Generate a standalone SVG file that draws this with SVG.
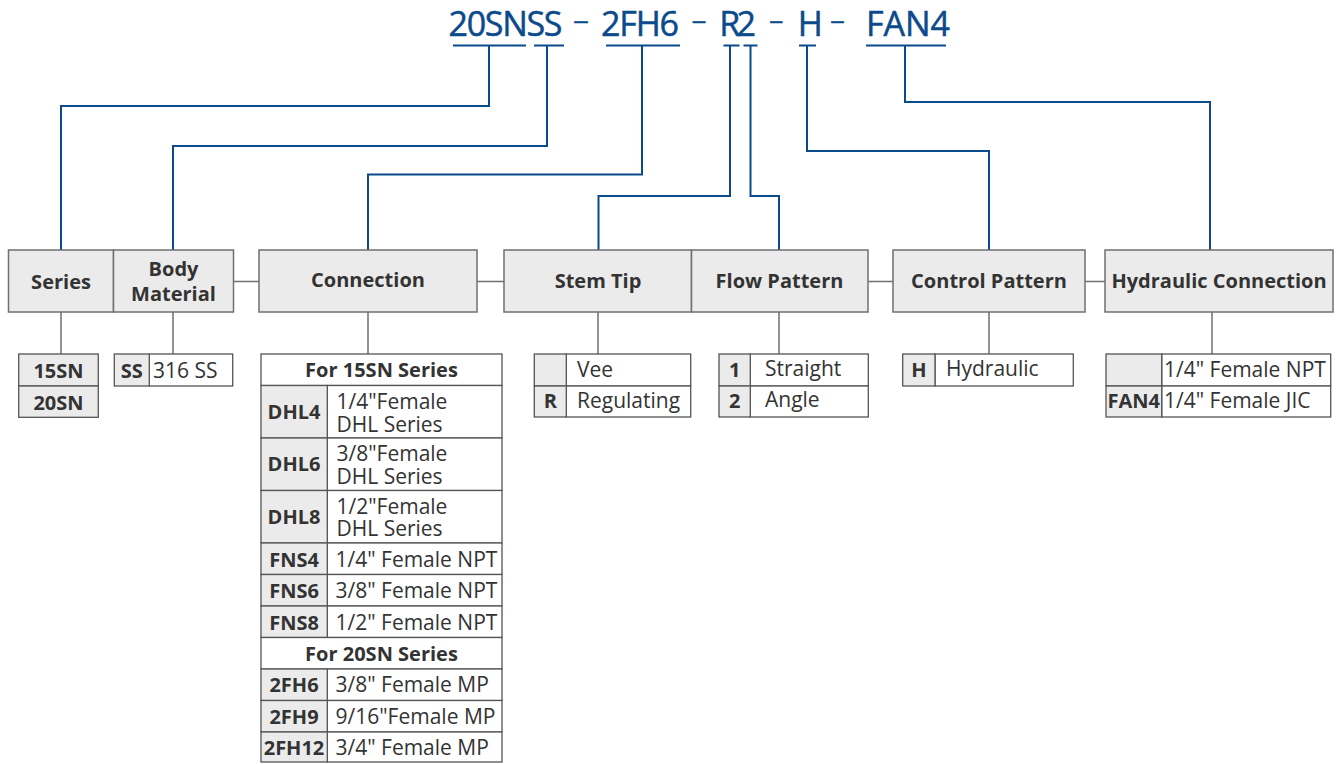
<svg xmlns="http://www.w3.org/2000/svg" width="1336" height="764" viewBox="0 0 1336 764">
<style>
.bg{fill:#ffffff}
.box{fill:#ebebeb;stroke:#707070;stroke-width:1.5}
.cell{fill:#ffffff;stroke:#555555;stroke-width:1.3}
.code{fill:#ebebeb;stroke:#555555;stroke-width:1.3}
.hdr{font-family:"Open Sans","Noto Sans",sans-serif;font-size:34px;fill:#0b4a8b;stroke:#0b4a8b;stroke-width:0.5}
.dash{font-family:"Open Sans","Noto Sans",sans-serif;font-size:24px;fill:#0b4a8b;stroke:#0b4a8b;stroke-width:0.3}
.lbl{font-family:"Open Sans","Noto Sans",sans-serif;font-size:20px;font-weight:bold;fill:#333333;text-anchor:middle}
.cb{font-family:"Open Sans","Noto Sans",sans-serif;font-size:20px;font-weight:bold;fill:#333333;text-anchor:middle}
.tx{font-family:"Open Sans","Noto Sans",sans-serif;font-size:21px;fill:#333333}
.blue{fill:none;stroke:#0b4a8b;stroke-width:2}
.gray{fill:none;stroke:#707070;stroke-width:1.5}
</style>
<rect class="bg" x="0" y="0" width="1336" height="764"/>

<g id="title">
<text class="hdr" x="448.5" y="35.5" textLength="114">20SNSS</text>
<text class="dash" x="573" y="28.5" textLength="16" lengthAdjust="spacingAndGlyphs">–</text>
<text class="hdr" x="601" y="35.5" textLength="78">2FH6</text>
<text class="dash" x="691.5" y="28.5" textLength="15" lengthAdjust="spacingAndGlyphs">–</text>
<text class="hdr" x="719.3" y="35.5" textLength="36.7">R2</text>
<text class="dash" x="769" y="28.5" textLength="14.5" lengthAdjust="spacingAndGlyphs">–</text>
<text class="hdr" x="797.7" y="35.5">H</text>
<text class="dash" x="830" y="28.5" textLength="15" lengthAdjust="spacingAndGlyphs">–</text>
<text class="hdr" x="866" y="35.5" textLength="84">FAN4</text>
</g>

<g id="connectors">
<path class="blue" d="M453 45.5H526M489 45.5V106H61V250"/>
<path class="blue" d="M534 45.5H564M547 45.5V146H173V250"/>
<path class="blue" d="M606 45.5H680M642 45.5V174.5H368V250"/>
<path class="blue" d="M723.5 45.5H739.5M730 45.5V196H598.5V250"/>
<path class="blue" d="M743.5 45.5H757.5M750.5 45.5V196H779V250"/>
<path class="blue" d="M799 45.5H816M807 45.5V151H989V250"/>
<path class="blue" d="M866 45.5H946M905 45.5V102H1210V250"/>
<path class="gray" d="M233.5 281.5H259M477 281.5H504M868 281.5H893M1085 281.5H1105"/>
<path class="gray" d="M61 312V354M173 312V354M368 312V354M598 312V354M779 312V354M989 312V354M1212 312V354"/>
</g>

<g id="series">
<rect class="box" x="8.5" y="250" width="105" height="62"/>
<text class="lbl" x="61" y="289">Series</text>
</g>
<g id="body-material">
<rect class="box" x="113.5" y="250" width="120" height="62"/>
<text class="lbl"><tspan x="173.5" y="276">Body</tspan><tspan x="173.5" y="301">Material</tspan></text>
</g>
<g id="connection">
<rect class="box" x="259" y="250" width="218" height="62"/>
<text class="lbl" x="368" y="287">Connection</text>
</g>
<g id="stem-tip">
<rect class="box" x="504" y="250" width="187.5" height="62"/>
<text class="lbl" x="598" y="288">Stem Tip</text>
</g>
<g id="flow-pattern">
<rect class="box" x="691.5" y="250" width="176.5" height="62"/>
<text class="lbl" x="779.5" y="288">Flow Pattern</text>
</g>
<g id="control-pattern">
<rect class="box" x="893" y="250" width="192" height="62"/>
<text class="lbl" x="989" y="288">Control Pattern</text>
</g>
<g id="hydraulic-connection">
<rect class="box" x="1105" y="250" width="228" height="62"/>
<text class="lbl" x="1219" y="288">Hydraulic Connection</text>
</g>

<g id="series-options">
<rect class="code" x="18.7" y="354" width="79.6" height="32"/>
<rect class="code" x="18.7" y="386" width="79.6" height="31.3"/>
<text class="cb" x="58.5" y="378">15SN</text>
<text class="cb" x="58.5" y="410">20SN</text>
</g>

<g id="body-options">
<rect class="cell" x="149.3" y="354" width="83.4" height="32"/>
<rect class="code" x="114.3" y="354" width="35" height="32"/>
<text class="cb" x="131.8" y="378">SS</text>
<text class="tx" x="153" y="378">316 SS</text>
</g>

<g id="connection-options">
<rect class="cell" x="261" y="354" width="241" height="31.5"/>
<text class="cb" x="381.5" y="377">For 15SN Series</text>
<rect class="cell" x="327.3" y="385.5" width="174.7" height="52.5"/>
<rect class="code" x="261" y="385.5" width="66.3" height="52.5"/>
<text class="cb" x="294" y="419">DHL4</text>
<text class="tx"><tspan x="336.5" y="408.5">1/4"Female</tspan><tspan x="336.5" y="432">DHL Series</tspan></text>
<rect class="cell" x="327.3" y="438" width="174.7" height="52.5"/>
<rect class="code" x="261" y="438" width="66.3" height="52.5"/>
<text class="cb" x="294" y="471">DHL6</text>
<text class="tx"><tspan x="336.5" y="461">3/8"Female</tspan><tspan x="336.5" y="484">DHL Series</tspan></text>
<rect class="cell" x="327.3" y="490.5" width="174.7" height="52.5"/>
<rect class="code" x="261" y="490.5" width="66.3" height="52.5"/>
<text class="cb" x="294" y="523.5">DHL8</text>
<text class="tx"><tspan x="336.5" y="513.5">1/2"Female</tspan><tspan x="336.5" y="536">DHL Series</tspan></text>
<rect class="cell" x="327.3" y="543" width="174.7" height="31.5"/>
<rect class="code" x="261" y="543" width="66.3" height="31.5"/>
<text class="cb" x="294" y="566.5">FNS4</text>
<text class="tx" x="335.5" y="566.5">1/4" Female NPT</text>
<rect class="cell" x="327.3" y="574.5" width="174.7" height="31.5"/>
<rect class="code" x="261" y="574.5" width="66.3" height="31.5"/>
<text class="cb" x="294" y="598">FNS6</text>
<text class="tx" x="335.5" y="598">3/8" Female NPT</text>
<rect class="cell" x="327.3" y="606" width="174.7" height="31.5"/>
<rect class="code" x="261" y="606" width="66.3" height="31.5"/>
<text class="cb" x="294" y="629.5">FNS8</text>
<text class="tx" x="335.5" y="629.5">1/2" Female NPT</text>
<rect class="cell" x="261" y="637.5" width="241" height="31.5"/>
<text class="cb" x="381.5" y="660.5">For 20SN Series</text>
<rect class="cell" x="327.3" y="669" width="174.7" height="31.5"/>
<rect class="code" x="261" y="669" width="66.3" height="31.5"/>
<text class="cb" x="294" y="692">2FH6</text>
<text class="tx" x="335.5" y="692">3/8" Female MP</text>
<rect class="cell" x="327.3" y="700.5" width="174.7" height="31.5"/>
<rect class="code" x="261" y="700.5" width="66.3" height="31.5"/>
<text class="cb" x="294" y="723.5">2FH9</text>
<text class="tx" x="335.5" y="723.5">9/16"Female MP</text>
<rect class="cell" x="327.3" y="732" width="174.7" height="30"/>
<rect class="code" x="261" y="732" width="66.3" height="30"/>
<text class="cb" x="294" y="755">2FH12</text>
<text class="tx" x="335.5" y="755">3/4" Female MP</text>
</g>

<g id="stem-options">
<rect class="cell" x="566.3" y="354" width="124.4" height="32"/>
<rect class="code" x="534.3" y="354" width="32" height="32"/>
<rect class="cell" x="566.3" y="386" width="124.4" height="31"/>
<rect class="code" x="534.3" y="386" width="32" height="31"/>
<text class="tx" x="577" y="377">Vee</text>
<text class="cb" x="550.3" y="408">R</text>
<text class="tx" x="577" y="408">Regulating</text>
</g>

<g id="flow-options">
<rect class="cell" x="750.3" y="354" width="118" height="32"/>
<rect class="code" x="719" y="354" width="31.3" height="32"/>
<rect class="cell" x="750.3" y="386" width="118" height="31"/>
<rect class="code" x="719" y="386" width="31.3" height="31"/>
<text class="cb" x="734.7" y="377">1</text>
<text class="tx" x="765" y="376">Straight</text>
<text class="cb" x="734.7" y="408">2</text>
<text class="tx" x="765" y="407">Angle</text>
</g>

<g id="control-options">
<rect class="cell" x="935" y="354" width="138.3" height="32"/>
<rect class="code" x="902.7" y="354" width="32.3" height="32"/>
<text class="cb" x="918.8" y="377">H</text>
<text class="tx" x="946" y="376">Hydraulic</text>
</g>

<g id="hydraulic-options">
<rect class="cell" x="1161.7" y="354" width="169" height="32"/>
<rect class="code" x="1106" y="354" width="55.7" height="32"/>
<rect class="cell" x="1161.7" y="386" width="169" height="31"/>
<rect class="code" x="1106" y="386" width="55.7" height="31"/>
<text class="tx" x="1164" y="377">1/4" Female NPT</text>
<text class="cb" x="1133.8" y="408">FAN4</text>
<text class="tx" x="1164" y="408">1/4" Female JIC</text>
</g>
</svg>
